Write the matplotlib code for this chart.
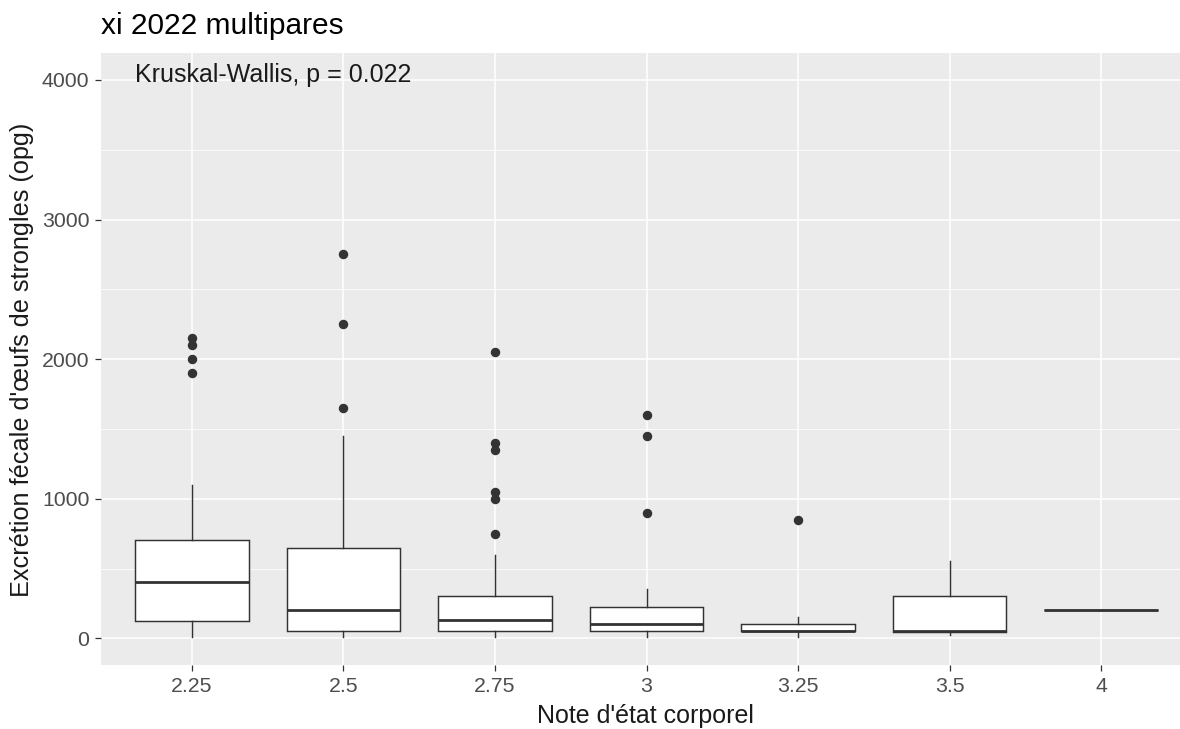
import matplotlib
matplotlib.use("Agg")
import matplotlib.pyplot as plt
from matplotlib.ticker import MultipleLocator

plt.rcParams['font.family'] = ['Liberation Sans', 'DejaVu Sans']

groups = ["2.25", "2.5", "2.75", "3", "3.25", "3.5", "4"]
whislo = [10, 10, 10, 10, 10, 25, 200]
q1 = [125, 50, 50, 50, 50, 45, 200]
med = [400, 200, 130, 100, 55, 50, 200]
q3 = [705, 645, 300, 225, 100, 300, 200]
whishi = [1100, 1450, 600, 350, 150, 555, 200]
outliers = [
    [1900, 2000, 2100, 2150],
    [1650, 2250, 2750],
    [750, 1000, 1050, 1350, 1400, 2050],
    [900, 1450, 1600],
    [850],
    [],
    [],
]
title = "xi 2022 multipares"
xlabel = "Note d'état corporel"
ylabel = "Excrétion fécale d'œufs de strongles (opg)"
test_label = "Kruskal-Wallis, p = 0.022"

W, H = 1180, 729
fig = plt.figure(figsize=(W / 100, H / 100), dpi=100)
# panel in pixels: left 101, right 1192 (cropped), top 53, bottom 665
left, right, top, bottom = 101, 1192, 53, 665
ax = fig.add_axes([left / W, 1 - bottom / H, (right - left) / W, (bottom - top) / H])
ax.set_facecolor('#EBEBEB')
for s in ax.spines.values():
    s.set_visible(False)

stats = []
for i, g in enumerate(groups):
    stats.append(dict(med=med[i], q1=q1[i], q3=q3[i], whislo=whislo[i],
                      whishi=whishi[i], fliers=outliers[i], label=g))

positions = list(range(1, len(groups) + 1))
edge = '#333333'
ax.bxp(stats, positions=positions, widths=0.75, patch_artist=True,
       showcaps=False, showfliers=True,
       boxprops=dict(facecolor='white', edgecolor=edge, linewidth=1.05),
       whiskerprops=dict(color=edge, linewidth=1.05),
       medianprops=dict(color=edge, linewidth=2.0, solid_capstyle='butt'),
       flierprops=dict(marker='o', markerfacecolor=edge, markeredgecolor=edge,
                       markersize=5.8, linestyle='none'),
       zorder=3)

ax.set_xlim(0.4, 7.6)
ax.set_ylim(-191, 4193)
ax.yaxis.set_major_locator(MultipleLocator(1000))
ax.yaxis.set_minor_locator(MultipleLocator(500))
ax.set_xticks(positions)
ax.set_xticklabels(groups)
ax.grid(which='major', color='white', linewidth=1.1, zorder=0)
ax.grid(which='minor', axis='y', color='white', linewidth=0.55, zorder=0)
ax.set_axisbelow(True)
ax.tick_params(which='major', length=4.3, width=0.9, color='#333333',
               labelcolor='#4D4D4D', labelsize=15.3, pad=4)
ax.tick_params(which='minor', length=0)

ax.text(0.625, 4035, test_label, ha='left', va='center', fontsize=18, color='#1A1A1A')

fig.text(left / W, 1 - 26 / H, title, ha='left', va='center', fontsize=21.5, color='black')
fig.text(645 / W, 1 - 716 / H, xlabel, ha='center', va='center',
         fontsize=18, color='#1A1A1A')
fig.text(22 / W, 1 - 360 / H, ylabel, rotation=90, ha='center',
         va='center', fontsize=18.2, color='#1A1A1A')

fig.savefig('out.png', dpi=100, facecolor='white')
